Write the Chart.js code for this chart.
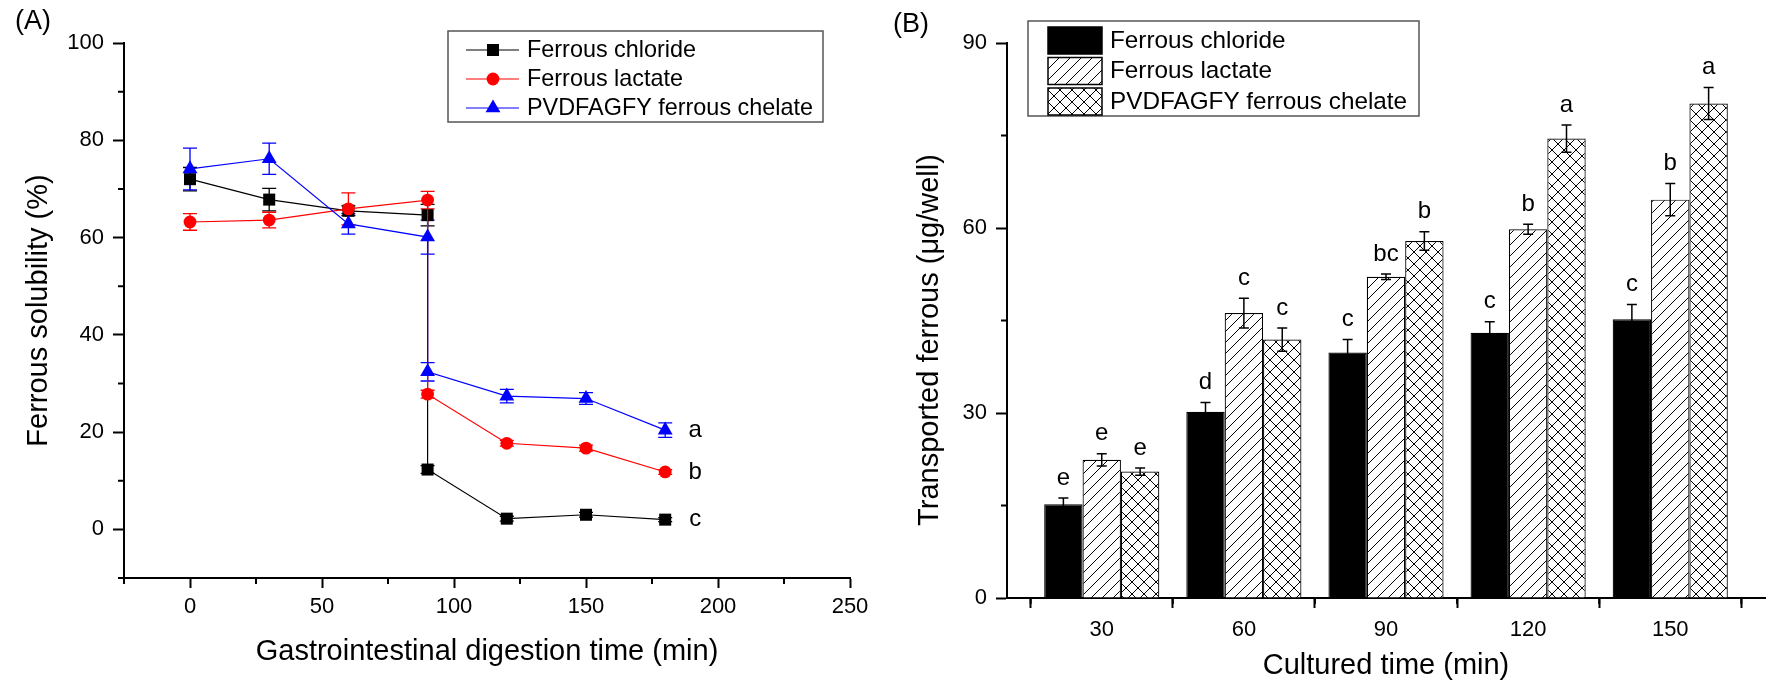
<!DOCTYPE html>
<html>
<head>
<meta charset="utf-8">
<title>Ferrous solubility and transport</title>
<script src="https://cdn.jsdelivr.net/npm/chart.js@4.4.1/dist/chart.umd.min.js"></script>
<style>
  html, body { margin: 0; padding: 0; background: #fff; }
  .panel { position: absolute; top: 0; width: 886px; height: 695px; }
  #panelA { left: 0; }
  #panelB { left: 886px; }
</style>
</head>
<body>
<div class="panel" id="panelA"><canvas id="chartA"></canvas></div>
<div class="panel" id="panelB"><canvas id="chartB"></canvas></div>
<script>
//========================= Data ==================================//

const seriesNames = ['Ferrous chloride', 'Ferrous lactate', 'PVDFAGFY ferrous chelate'];

// (A) two readings at 90 min: end of gastric phase / start of intestinal phase
const digestTime = [0, 30, 60, 90, 90, 120, 150, 180];
const chlorideSol = [72.0, 67.8, 65.5, 64.6, 12.3, 2.2, 3.0, 2.0];
const chlorideSolErr = [2.4, 2.3, 1.0, 2.2, 0.8, 0.5, 0.5, 0.4];
const lactateSol = [63.2, 63.6, 65.9, 67.7, 27.8, 17.7, 16.7, 11.8];
const lactateSolErr = [1.7, 1.6, 3.3, 1.8, 0.8, 0.6, 0.6, 0.5];
const chelateSol = [74.1, 76.2, 62.8, 60.1, 32.4, 27.4, 26.9, 20.4];
const chelateSolErr = [4.3, 3.2, 2.1, 3.5, 1.9, 1.4, 1.2, 1.5];
const endLetters = ['c', 'b', 'a'];

const solTicks = [0, 20, 40, 60, 80, 100];
const solMinor = [-10, 10, 30, 50, 70, 90];
const digestTicks = [0, 50, 100, 150, 200, 250];
const digestMinor = [-25, 25, 75, 125, 175, 225];

// (B) transported ferrous
const culturedTime = [30, 60, 90, 120, 150];
const chlorideTr = [15.2, 30.2, 39.8, 43.0, 45.2];
const chlorideTrErr = [1.0, 1.5, 2.1, 1.8, 2.4];
const lactateTr = [22.4, 46.2, 52.1, 59.8, 64.6];
const lactateTrErr = [1.0, 2.4, 0.45, 0.8, 2.6];
const chelateTr = [20.5, 41.9, 57.9, 74.5, 80.2];
const chelateTrErr = [0.6, 1.9, 1.5, 2.2, 2.6];
const chlorideLetters = ['e', 'd', 'c', 'c', 'c'];
const lactateLetters = ['e', 'c', 'bc', 'b', 'b'];
const chelateLetters = ['e', 'c', 'b', 'a', 'a'];

const trTicks = [0, 30, 60, 90];
const trMinor = [15, 45, 75];
const culturedTicks = [30, 60, 90, 120, 150];
const culturedMinor = [15, 45, 75, 105, 135, 165];

//========================= Helpers ==================================//

const FONT = "'Liberation Sans', Arial, sans-serif";
Chart.defaults.font.family = FONT;
Chart.defaults.color = '#000';

function toXY(xs, ys) {
  return xs.map((x, i) => ({ x: x, y: ys[i] }));
}

function makeHatch(cross) {
  const s = cross ? 12 : 11;
  const c = document.createElement('canvas');
  c.width = s; c.height = s;
  const g = c.getContext('2d');
  g.fillStyle = '#fff';
  g.fillRect(0, 0, s, s);
  g.strokeStyle = '#000';
  g.lineWidth = 1;
  g.beginPath();
  g.moveTo(-1, s + 1); g.lineTo(s + 1, -1);
  if (cross) { g.moveTo(-1, -1); g.lineTo(s + 1, s + 1); }
  g.stroke();
  return g.createPattern(c, 'repeat');
}

// same geometry as Chart.js rect / circle / triangle points
function drawMarker(ctx, style, x, y, r) {
  ctx.beginPath();
  if (style === 'rect') {
    const h = r * Math.SQRT1_2;
    ctx.rect(x - h, y - h, 2 * h, 2 * h);
  } else if (style === 'circle') {
    ctx.arc(x, y, r, 0, Math.PI * 2);
  } else {
    ctx.moveTo(x, y - r);
    ctx.lineTo(x + r * 0.866, y + r * 0.5);
    ctx.lineTo(x - r * 0.866, y + r * 0.5);
    ctx.closePath();
  }
  ctx.fill();
}

function fixedTicks(list) {
  return function (scale) { scale.ticks = list.map(v => ({ value: v })); };
}

function axisStyle(tickLen, pad) {
  return {
    grid: { drawOnChartArea: false, tickLength: tickLen, tickWidth: 2, tickColor: '#000' },
    border: { color: '#000', width: 2 },
    ticks: { font: { size: 22 }, padding: pad, color: '#000' }
  };
}

/***************************************************************
* Plugins: error bars, minor ticks, annotations
****************************************************************/
const errorBars = {
  id: 'errorBars',
  beforeDatasetsDraw(chart, args, opts) { if (opts.behind) drawErrors(chart, opts); },
  afterDatasetsDraw(chart, args, opts) { if (!opts.behind) drawErrors(chart, opts); }
};

function drawErrors(chart, opts) {
  const ctx = chart.ctx;
  const yScale = chart.scales.y;
  ctx.save();
  ctx.lineWidth = opts.width;
  chart.data.datasets.forEach((ds, i) => {
    const meta = chart.getDatasetMeta(i);
    ctx.strokeStyle = opts.color || ds.borderColor;
    meta.data.forEach((el, j) => {
      const v = ds.data[j].y;
      const e = opts.errors[i][j];
      const yt = yScale.getPixelForValue(v + e);
      const yb = yScale.getPixelForValue(v - e);
      const half = opts.cap / 2;
      ctx.beginPath();
      ctx.moveTo(el.x, yt); ctx.lineTo(el.x, yb);
      ctx.moveTo(el.x - half, yt); ctx.lineTo(el.x + half, yt);
      ctx.moveTo(el.x - half, yb); ctx.lineTo(el.x + half, yb);
      ctx.stroke();
    });
  });
  ctx.restore();
}

const minorTicks = {
  id: 'minorTicks',
  afterDraw(chart, args, opts) {
    const ctx = chart.ctx;
    const xs = chart.scales.x, ys = chart.scales.y;
    ctx.save();
    ctx.strokeStyle = '#000';
    ctx.lineWidth = 2;
    ctx.beginPath();
    opts.x.forEach(v => {
      const px = xs.getPixelForValue(v);
      ctx.moveTo(px, xs.top); ctx.lineTo(px, xs.top + opts.len);
    });
    opts.y.forEach(v => {
      const py = ys.getPixelForValue(v);
      ctx.moveTo(ys.right, py); ctx.lineTo(ys.right - opts.len, py);
    });
    ctx.stroke();
    ctx.restore();
  }
};

//========================= Chart A ==================================//

const colorsA = ['#000000', '#ff0000', '#0000ff'];
const stylesA = ['rect', 'circle', 'triangle'];
const radiiA = [8.5, 6.4, 8.6];
const solSeries = [chlorideSol, lactateSol, chelateSol];

const annotA = {
  id: 'annotA',
  afterDraw(chart) {
    const ctx = chart.ctx;
    ctx.save();
    ctx.fillStyle = '#000';
    ctx.textBaseline = 'middle';

    ctx.font = '27px ' + FONT;
    ctx.textAlign = 'left';
    ctx.fillText('(A)', 15, 22);

    // significance letters next to the last point
    ctx.font = '24px ' + FONT;
    ctx.textAlign = 'center';
    chart.data.datasets.forEach((ds, i) => {
      const meta = chart.getDatasetMeta(i);
      const last = meta.data[meta.data.length - 1];
      ctx.fillText(endLetters[i], last.x + 30, last.y);
    });

    // legend
    ctx.strokeStyle = '#555';
    ctx.lineWidth = 1.5;
    ctx.strokeRect(448, 31, 375, 91);
    ctx.font = '23.4px ' + FONT;
    ctx.textAlign = 'left';
    seriesNames.forEach((name, i) => {
      const y = 50 + i * 29;
      ctx.strokeStyle = colorsA[i];
      ctx.lineWidth = 1.2;
      ctx.beginPath();
      ctx.moveTo(466, y); ctx.lineTo(519, y);
      ctx.stroke();
      ctx.fillStyle = colorsA[i];
      drawMarker(ctx, stylesA[i], 493, y, radiiA[i]);
      ctx.fillStyle = '#000';
      ctx.fillText(name, 527, y + 1);
    });
    ctx.restore();
  }
};

const chartA = new Chart(document.getElementById('chartA'), {
  type: 'line',
  data: {
    datasets: seriesNames.map((name, i) => ({
      label: name,
      data: toXY(digestTime, solSeries[i]),
      borderColor: colorsA[i],
      backgroundColor: colorsA[i],
      pointBackgroundColor: colorsA[i],
      pointBorderWidth: 0,
      pointStyle: stylesA[i],
      pointRadius: radiiA[i],
      borderWidth: 1.2,
      tension: 0,
      order: 3 - i
    }))
  },
  options: {
    responsive: true,
    maintainAspectRatio: false,
    animation: false,
    layout: { padding: { left: 0, right: 36, top: 43, bottom: 0 } },
    plugins: {
      legend: { display: false },
      tooltip: { enabled: false },
      errorBars: { errors: [chlorideSolErr, lactateSolErr, chelateSolErr], cap: 14, width: 1.3, behind: true },
      minorTicks: { x: digestMinor, y: solMinor, len: 6 }
    },
    scales: {
      x: Object.assign(axisStyle(10, 6), {
        type: 'linear', min: -25, max: 250,
        afterBuildTicks: fixedTicks(digestTicks),
        afterFit(scale) { scale.height = 117; },
        title: { display: true, text: 'Gastrointestinal digestion time (min)', font: { size: 29 }, padding: { top: 0, bottom: 26 }, color: '#000' }
      }),
      y: Object.assign(axisStyle(11, 9), {
        type: 'linear', min: -10, max: 100,
        afterBuildTicks: fixedTicks(solTicks),
        afterFit(scale) { scale.width = 124; },
        title: { display: true, text: 'Ferrous solubility (%)', font: { size: 29 }, padding: { top: 22, bottom: 0 }, color: '#000' }
      })
    }
  },
  plugins: [errorBars, minorTicks, annotA]
});

//========================= Chart B ==================================//

const hatchLine = makeHatch(false);
const hatchCross = makeHatch(true);
const fillsB = ['#000000', hatchLine, hatchCross];
const trSeries = [chlorideTr, lactateTr, chelateTr];
const trErrors = [chlorideTrErr, lactateTrErr, chelateTrErr];
const trLetters = [chlorideLetters, lactateLetters, chelateLetters];

const annotB = {
  id: 'annotB',
  afterDraw(chart) {
    const ctx = chart.ctx;
    const yScale = chart.scales.y;
    ctx.save();
    ctx.fillStyle = '#000';
    ctx.textBaseline = 'middle';

    ctx.font = '27px ' + FONT;
    ctx.textAlign = 'left';
    ctx.fillText('(B)', 7, 25);

    // y title
    ctx.save();
    ctx.translate(44, 340);
    ctx.rotate(-Math.PI / 2);
    ctx.textAlign = 'center';
    ctx.font = '29px ' + FONT;
    ctx.fillText('Transported ferrous (\u03bcg/well)', 0, 0);
    ctx.restore();

    // letters over each error bar
    ctx.font = '24px ' + FONT;
    ctx.textAlign = 'center';
    chart.data.datasets.forEach((ds, i) => {
      const meta = chart.getDatasetMeta(i);
      meta.data.forEach((bar, j) => {
        const top = yScale.getPixelForValue(trSeries[i][j] + trErrors[i][j]);
        ctx.fillText(trLetters[i][j], bar.x, top - 20);
      });
    });

    // legend
    ctx.strokeStyle = '#555';
    ctx.lineWidth = 1.5;
    ctx.strokeRect(142, 21, 391, 95);
    ctx.font = '24.3px ' + FONT;
    ctx.textAlign = 'left';
    seriesNames.forEach((name, i) => {
      const top = 27 + i * 30.5;
      ctx.fillStyle = fillsB[i];
      ctx.fillRect(162, top, 54, 27);
      ctx.strokeStyle = '#000';
      ctx.lineWidth = 1.5;
      ctx.strokeRect(162, top, 54, 27);
      ctx.fillStyle = '#000';
      ctx.fillText(name, 224, top + 14);
    });
    ctx.restore();
  }
};

const chartB = new Chart(document.getElementById('chartB'), {
  type: 'bar',
  data: {
    datasets: seriesNames.map((name, i) => ({
      label: name,
      data: toXY(culturedTime, trSeries[i]),
      backgroundColor: fillsB[i],
      borderColor: '#000',
      borderWidth: 1.2,
      categoryPercentage: 0.81,
      barPercentage: 1
    }))
  },
  options: {
    responsive: true,
    maintainAspectRatio: false,
    animation: false,
    layout: { padding: { left: 0, right: 7, top: 43, bottom: 0 } },
    plugins: {
      legend: { display: false },
      tooltip: { enabled: false },
      errorBars: { errors: trErrors, cap: 10, width: 1.5, color: '#000', behind: false },
      minorTicks: { x: culturedMinor, y: trMinor, len: 6 }
    },
    scales: {
      x: Object.assign(axisStyle(10, 9), {
        type: 'linear', min: 10, max: 170, offset: false,
        afterBuildTicks: fixedTicks(culturedTicks),
        afterFit(scale) { scale.height = 97; },
        title: { display: true, text: 'Cultured time (min)', font: { size: 29 }, padding: { top: 0, bottom: 12 }, color: '#000' }
      }),
      y: Object.assign(axisStyle(11, 9), {
        type: 'linear', min: 0, max: 90,
        afterBuildTicks: fixedTicks(trTicks),
        afterFit(scale) { scale.width = 121; }
      })
    }
  },
  plugins: [errorBars, minorTicks, annotB]
});
</script>
</body>
</html>
